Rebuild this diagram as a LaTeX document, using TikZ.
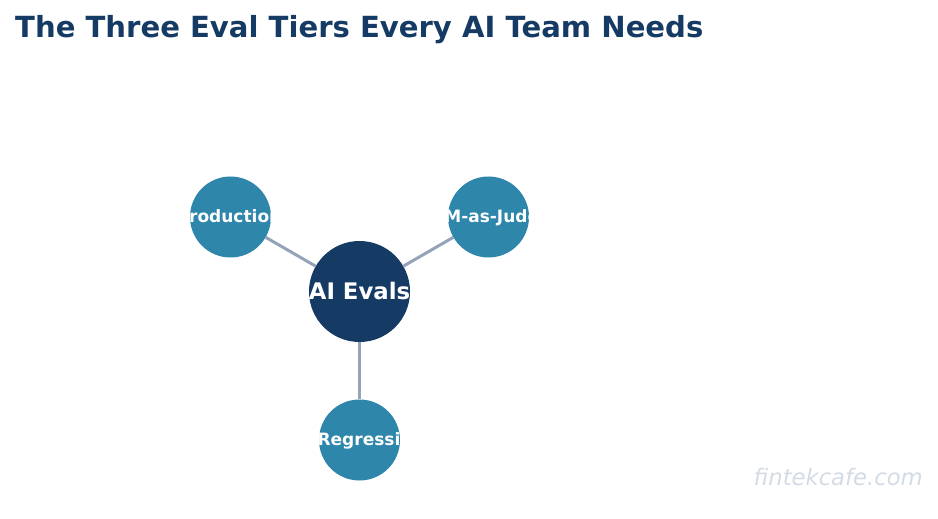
\documentclass[tikz,border=0pt]{standalone}
\usepackage{fontspec}
\setmainfont{DejaVu Sans}
\definecolor{navy}{HTML}{153B65}
\definecolor{teal2}{HTML}{2E86AB}
\definecolor{edgecol}{HTML}{94A3B8}
\definecolor{mark}{HTML}{D3DBE4}
\tikzset{
  hub/.style={circle,fill=navy,draw=none,minimum size=101bp,inner sep=0pt},
  leaf/.style={circle,fill=teal2,draw=none,minimum size=81bp,inner sep=0pt},
  hubtext/.style={anchor=base,inner sep=0pt,text=white,font=\bfseries\fontsize{22.8bp}{26bp}\selectfont},
  leaftext/.style={anchor=base,inner sep=0pt,text=white,font=\bfseries\fontsize{17bp}{20bp}\selectfont},
  link/.style={draw=edgecol,line width=3bp},
  headline/.style={anchor=base west,inner sep=0pt,text=navy,font=\bfseries\fontsize{29.1bp}{32bp}\selectfont},
  wm/.style={anchor=base east,inner sep=0pt,text=mark,font=\itshape\fontsize{22.7bp}{26bp}\selectfont}
}
\begin{document}
\begin{tikzpicture}[x=1bp,y=-1bp]
\useasboundingbox (0,0) rectangle (938,519);
\node[hub] (hub) at (359.5,291.5) {};
\node[leaf] (prod) at (230.5,217) {};
\node[leaf] (llm) at (488.5,217) {};
\node[leaf] (reg) at (359.5,440) {};
\draw[link] (hub) -- (prod);
\draw[link] (hub) -- (llm);
\draw[link] (hub) -- (reg);
\node[hubtext] (hubt) at (359.5,299.7) {AI Evals};
\node[leaftext] (prodt) at (229,222.7) {Production};
\node[leaftext] (llmt) at (487,222.7) {LLM-as-Judge};
\node[leaftext] (regt) at (359,445.6) {Regressi};
\node[headline] (title) at (15,38) {The Three Eval Tiers Every AI Team Needs};
\node[wm] (site) at (923,485) {fintekcafe.com};
\end{tikzpicture}
\end{document}
